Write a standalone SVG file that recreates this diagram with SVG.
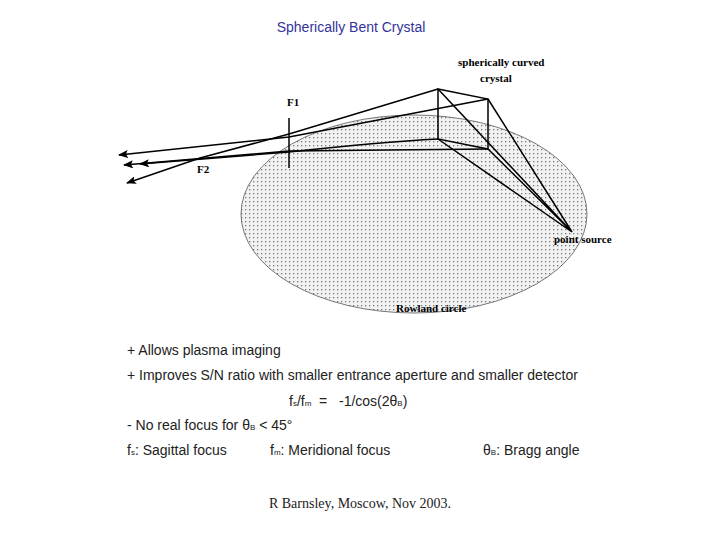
<svg xmlns="http://www.w3.org/2000/svg" width="720" height="540" viewBox="0 0 720 540">
<defs>
<pattern id="dots" width="4" height="4" patternUnits="userSpaceOnUse"><rect width="4" height="4" fill="#f2f2f2"/><rect x="1" y="1" width="1.3" height="1.3" fill="#777"/></pattern>
<marker id="ah" markerWidth="10" markerHeight="8" refX="9" refY="4" orient="auto" markerUnits="userSpaceOnUse"><path d="M10,4 L0,0 L2,4 L0,8 Z" fill="#000"/></marker>
</defs>
<style>
.t{font-family:"Liberation Sans",Arial,sans-serif;font-size:14px;fill:#222;white-space:pre}
.s{font-family:"Liberation Sans",Arial,sans-serif;font-size:8px;fill:#222}
.lb{font-family:"Liberation Serif","Times New Roman",serif;font-size:11px;font-weight:bold;fill:#000}
.ln{stroke:#000;stroke-width:1.5;fill:none}
</style>
<rect width="720" height="540" fill="#fff"/>
<text x="351" y="32" text-anchor="middle" style="font-family:'Liberation Sans',Arial,sans-serif;font-size:14px;fill:#333399">Spherically Bent Crystal</text>
<g id="circle"><ellipse cx="414" cy="214" rx="173" ry="99" fill="url(#dots)" stroke="#555" stroke-width="0.8"/></g>
<g id="connectors">
<path class="ln" d="M438,89 L572,232 M488,99 L572,232 M438,139 L572,232 M488,149 L572,232"/>
<path class="ln" d="M438,89 L488,99 L488,149 L438,139 Z M438,89 V139"/>
<path class="ln" d="M289,118 V168"/>
<path class="ln" d="M438,89 L289,134 L200,158 L127,183" marker-end="url(#ah)"/>
<path class="ln" d="M488,99 L289,137 L119,155" marker-end="url(#ah)"/>
<path class="ln" d="M438,139 Q380,142 289,152 L140,164" marker-end="url(#ah)"/>
<path class="ln" d="M488,149 L289,151 L124,165" marker-end="url(#ah)"/>
</g>
<g id="labels">
<text class="lb" x="458" y="66">spherically curved</text>
<text class="lb" x="480" y="82">crystal</text>
<text class="lb" x="287" y="106">F1</text>
<text class="lb" x="197" y="173">F2</text>
<text class="lb" x="554" y="243">point source</text>
<text class="lb" x="396" y="312">Rowland circle</text>
</g>
<g id="notes">
<text class="t" x="127" y="355">+ Allows plasma imaging</text>
<text class="t" x="127" y="380">+ Improves S/N ratio with smaller entrance aperture and smaller detector</text>
<text class="t" x="289" y="406">f<tspan class="s">s</tspan>/f<tspan class="s">m</tspan>  =   -1/cos(2θ<tspan class="s">B</tspan>)</text>
<text class="t" x="127" y="430">- No real focus for θ<tspan class="s">B</tspan> &lt; 45°</text>
<text class="t" x="127" y="455">f<tspan class="s">s</tspan>: Sagittal focus</text>
<text class="t" x="270" y="455">f<tspan class="s">m</tspan>: Meridional focus</text>
<text class="t" x="483" y="455">θ<tspan class="s">B</tspan>: Bragg angle</text>
<text x="360" y="508" text-anchor="middle" style="font-family:'Liberation Serif','Times New Roman',serif;font-size:14px;fill:#222">R Barnsley, Moscow, Nov 2003.</text>
</g>
</svg>
